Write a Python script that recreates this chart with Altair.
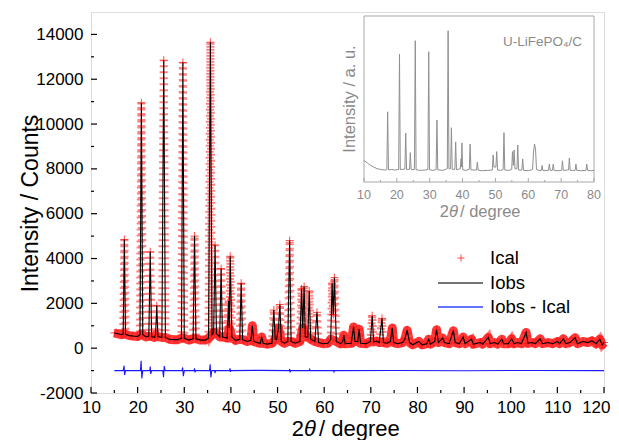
import altair as alt
import pandas as pd

# ---------------- data ----------------
# Observed pattern (2theta, counts)
IOBS = [
    (15.0, 680), (15.8, 640), (16.6, 600), (16.9, 640), (17.15, 4850), (17.4, 620),
    (18.2, 560), (19.0, 540), (20.0, 520), (20.5, 600), (20.8, 10950), (21.1, 600),
    (21.8, 500), (22.4, 540), (22.7, 4300), (23.0, 520), (23.6, 480), (23.85, 600),
    (24.1, 1900), (24.35, 520), (25.2, 480), (25.6, 12850), (25.95, 480), (26.8, 400),
    (27.8, 380), (28.6, 380), (29.4, 450), (29.7, 12750), (30.0, 440), (31.0, 360),
    (31.9, 420), (32.2, 5000), (32.5, 420), (33.5, 360), (34.5, 360), (35.2, 450),
    (35.6, 13650), (35.95, 600), (36.3, 700), (36.6, 4600), (36.9, 650), (37.6, 500),
    (37.9, 3550), (38.2, 500), (39.2, 450), (39.5, 2100), (39.65, 900), (39.85, 4100),
    (40.2, 500), (41.0, 350), (41.9, 400), (42.2, 2900), (42.5, 380), (43.5, 300),
    (44.3, 350), (44.6, 1000), (44.9, 300), (45.6, 250), (46.3, 220), (46.6, 500),
    (46.9, 220), (47.8, 180), (48.8, 220), (49.2, 1700), (49.5, 400), (49.8, 380),
    (50.2, 900), (50.5, 1950), (50.8, 300), (51.5, 220), (52.2, 300), (52.6, 4800),
    (52.9, 300), (53.8, 220), (54.8, 300), (55.15, 2650), (55.4, 900), (55.7, 2750),
    (55.95, 500), (56.5, 500), (56.8, 2550), (57.1, 400), (58.0, 300), (58.45, 1600),
    (58.8, 250), (59.8, 200), (60.8, 220), (61.4, 400), (61.7, 2900), (61.95, 1500),
    (62.2, 3150), (62.6, 300), (63.5, 200), (64.0, 300), (64.2, 580), (64.5, 200),
    (65.8, 220), (66.3, 950), (66.6, 300), (67.2, 300), (67.5, 850), (67.8, 220),
    (69.0, 200), (69.9, 300), (70.3, 1450), (70.6, 280), (71.2, 320), (71.8, 250),
    (72.4, 1330), (72.7, 250), (73.5, 220), (74.2, 300), (74.6, 900), (74.9, 250),
    (75.8, 200), (76.8, 250), (77.3, 400), (77.8, 800), (78.3, 250), (79.0, 150),
    (80.3, 300), (81.0, 150), (82.0, 200), (82.4, 400), (82.8, 180), (83.7, 300),
    (84.1, 820), (84.5, 250), (85.4, 450), (85.8, 250), (86.8, 200), (87.7, 780),
    (88.1, 250), (89.0, 200), (89.8, 500), (90.2, 200), (91.6, 400), (92.0, 180),
    (93.5, 250), (94.0, 180), (95.2, 480), (95.6, 200), (96.5, 250), (97.2, 180),
    (98.1, 400), (98.5, 200), (99.5, 200), (100.2, 420), (100.7, 200), (101.5, 250),
    (102.3, 200), (103.3, 700), (103.7, 220), (104.6, 250), (105.3, 200), (106.3, 420),
    (106.8, 200), (108.0, 250), (109.0, 200), (110.0, 300), (110.5, 200), (111.3, 420),
    (111.8, 200), (112.7, 250), (113.8, 470), (114.3, 200), (115.5, 300), (116.5, 250),
    (117.4, 330), (118.3, 200), (119.1, 400), (119.6, 150), (120.0, 250),
]
# Calculated pattern: overlaps the observed one at this scale
ICAL = list(IOBS)

# Difference curve (offset to -1000)
DIFF = [
    (15.0, -1000), (16.9, -1000), (17.1, -780), (17.2, -1200), (17.4, -1000),
    (20.6, -1000), (20.75, -560), (20.9, -1350), (21.1, -1000), (22.6, -1000),
    (22.7, -820), (22.8, -1150), (23.0, -1000), (25.4, -1000), (25.55, -1300),
    (25.7, -800), (25.9, -1000), (29.5, -1000), (29.65, -860), (29.8, -1250),
    (30.0, -1000), (32.1, -1000), (32.2, -900), (32.3, -1080), (32.4, -1000),
    (35.4, -1000), (35.55, -720), (35.7, -1300), (35.9, -1000), (36.5, -1000),
    (36.6, -1120), (36.7, -1000), (39.7, -1000), (39.8, -900), (39.9, -1060),
    (40.0, -1000), (46.0, -990), (52.5, -1000), (52.6, -930), (52.7, -1080),
    (52.8, -1000), (56.8, -1000), (56.9, -940), (57.0, -1000), (62.0, -1000),
    (62.1, -1060), (62.2, -1000), (75.0, -995), (90.0, -1005), (105.0, -995),
    (120.0, -1000),
]

# Inset pattern (2theta, relative intensity 0-100)
INSET = [
    (10, 13), (11, 11.5), (12, 10), (13, 9), (14, 8), (15, 7.6), (16.5, 7.2),
    (16.95, 7.5), (17.2, 42.3), (17.45, 7.4), (18.5, 7.5), (19.5, 7.2), (20.55, 7.6),
    (20.8, 77.1), (21.05, 7.5), (22.45, 7.8), (22.7, 29.5), (22.95, 7.6), (23.85, 7.6),
    (24.1, 17.7), (24.35, 7.4), (25.35, 7.6), (25.6, 85.1), (25.85, 7.4), (27.0, 7),
    (28.5, 7.2), (29.45, 7.6), (29.7, 78.5), (29.95, 7.4), (31.0, 7), (31.95, 7.5),
    (32.2, 37.3), (32.45, 7.3), (34.0, 7), (35.35, 8), (35.6, 91.1), (35.85, 8),
    (36.35, 8), (36.6, 32.7), (36.85, 7.6), (37.65, 7.6), (37.9, 24.1), (38.15, 7.4),
    (39.3, 8), (39.55, 14), (39.65, 9), (39.8, 23.5), (40.05, 7.4), (41.0, 7),
    (42.05, 7.6), (42.3, 22.9), (42.55, 7.3), (44.25, 7.2), (44.5, 12), (44.75, 7.1),
    (46, 6.8), (47.5, 7), (49.05, 7.2), (49.3, 16.3), (49.55, 9), (50.15, 9),
    (50.4, 18.3), (50.65, 7.2), (51.5, 7), (52.35, 7.5), (52.6, 29.7), (52.85, 7.2),
    (54, 7), (54.95, 7.5), (55.2, 18.3), (55.45, 10), (55.7, 19.3), (55.95, 8),
    (56.55, 8), (56.8, 22.3), (57.05, 7.2), (58.05, 7.2), (58.3, 13.9), (58.55, 7),
    (60, 6.8), (61.3, 7.5), (61.6, 18), (61.9, 22.9), (62.2, 20), (62.5, 7.5),
    (63.5, 6.8), (64.0, 7), (64.2, 10), (64.4, 7), (66.15, 7), (66.4, 10.8),
    (66.65, 7), (67.35, 7), (67.6, 10.8), (67.85, 7), (69, 6.8), (70.15, 7),
    (70.4, 12.8), (70.65, 7), (71.5, 7.2), (72.25, 7.2), (72.5, 14.5), (72.75, 7),
    (73.5, 7), (74.25, 7), (74.5, 10.8), (74.75, 7), (76, 6.8), (77.55, 7),
    (77.8, 10.8), (78.05, 7), (79, 6.8), (80, 7),
]

X_LABELS = [10, 20, 30, 40, 50, 60, 70, 80, 90, 100, 110, 120]
X_MINOR = [15, 25, 35, 45, 55, 65, 75, 85, 95, 105, 115]
Y_LABELS = [-2000, 0, 2000, 4000, 6000, 8000, 10000, 12000, 14000]
Y_MINOR = [-1000, 1000, 3000, 5000, 7000, 9000, 11000, 13000]
INSET_LABELS = [10, 20, 30, 40, 50, 60, 70, 80]
INSET_MINOR = [15, 25, 35, 45, 55, 65, 75]
LEGEND = ["Ical", "Iobs", "Iobs - Ical"]
INSET_NAME = "U-LiFePO\u2084/C"
X_TITLE_PARTS = ["2", "\u03b8", "/ degree"]
Y_TITLE = "Intensity / Counts"
INSET_Y_TITLE = "Intensity / a. u."

FONT = "Liberation Sans"
CROSS = "M-1,0L1,0M0,-1L0,1"

# ---------------- frames ----------------
iobs_df = pd.DataFrame(IOBS, columns=["tt", "counts"])
ical_df = pd.DataFrame(ICAL, columns=["tt", "counts"])
diff_df = pd.DataFrame(DIFF, columns=["tt", "counts"])
inset_df = pd.DataFrame(INSET, columns=["tt", "inten"])

W, H = 513, 381

main_x = alt.Scale(domain=[10, 120], nice=False, zero=False)
main_y = alt.Scale(domain=[-2000, 15000], nice=False, zero=False)

x_axis = alt.Axis(values=X_LABELS, ticks=False, domain=False, grid=False,
                  labelFontSize=17, labelPadding=6, labelFlush=False,
                  labelOverlap=False, labelColor="black", labelFont=FONT,
                  labelAlign={"condition": {"test": "datum.value == 120", "value": "right"},
                              "value": "center"},
                  labelOffset={"condition": {"test": "datum.value == 120", "value": 6},
                               "value": 0},
                  title=None)
y_axis = alt.Axis(values=Y_LABELS, ticks=False, domain=False, grid=False,
                  labelFontSize=17, labelPadding=8, labelOverlap=False,
                  labelColor="black", labelFont=FONT, labelExpr="'' + datum.value",
                  title=Y_TITLE, titleFontSize=23, titleFont=FONT,
                  titleFontWeight="normal", titleColor="black",
                  titleX=-61, titleY=191, titleAlign="center",
                  titleBaseline="middle")

X = alt.X("tt:Q", scale=main_x, axis=x_axis)
Y = alt.Y("counts:Q", scale=main_y, axis=y_axis)

band = alt.Chart(ical_df).transform_filter("datum.counts < 1200").mark_line(
    color="#ff1a1a", strokeWidth=9, opacity=0.85, strokeJoin="round"
).encode(x=X, y=Y)

dashes = alt.Chart(ical_df).mark_line(
    color="#ff1a1a", strokeWidth=8, opacity=0.55, strokeDash=[2, 4], strokeCap="butt"
).encode(x=X, y=Y)

crosses = alt.Chart(ical_df).mark_point(
    shape=CROSS, size=64, filled=False, color="#ff1a1a", strokeWidth=1, opacity=0.8
).encode(x=X, y=Y)

obs_line = alt.Chart(iobs_df).mark_line(color="black", strokeWidth=1.1).encode(x=X, y=Y)
diff_line = alt.Chart(diff_df).mark_line(color="#1a1aff", strokeWidth=1.1).encode(x=X, y=Y)

xmaj = alt.Chart(pd.DataFrame({"tt": X_LABELS})).mark_rule(color="black", strokeWidth=1.2).encode(
    x=X, y=alt.value(H), y2=alt.value(H - 6))
xmin = alt.Chart(pd.DataFrame({"tt": X_MINOR})).mark_rule(color="black", strokeWidth=1.2).encode(
    x=X, y=alt.value(H), y2=alt.value(H - 3))
ymaj = alt.Chart(pd.DataFrame({"counts": Y_LABELS})).mark_rule(color="black", strokeWidth=1.2).encode(
    y=Y, x=alt.value(0), x2=alt.value(6))
ymin = alt.Chart(pd.DataFrame({"counts": Y_MINOR})).mark_rule(color="black", strokeWidth=1.2).encode(
    y=Y, x=alt.value(0), x2=alt.value(3))

# x-axis title with italic theta
XT_Y = 424
XT_SIZE = 22
xt1 = alt.Chart(pd.DataFrame({"t": [X_TITLE_PARTS[0]]})).mark_text(
    fontSize=XT_SIZE, font=FONT, color="black", align="right", baseline="alphabetic"
).encode(x=alt.value(213), y=alt.value(XT_Y), text="t:N")
xt2 = alt.Chart(pd.DataFrame({"t": [X_TITLE_PARTS[1]]})).mark_text(
    fontSize=XT_SIZE, font=FONT, fontStyle="italic", color="black", align="left", baseline="alphabetic"
).encode(x=alt.value(213), y=alt.value(XT_Y), text="t:N")
xt3 = alt.Chart(pd.DataFrame({"t": [X_TITLE_PARTS[2]]})).mark_text(
    fontSize=XT_SIZE, font=FONT, color="black", align="left", baseline="alphabetic"
).encode(x=alt.value(228), y=alt.value(XT_Y), text="t:N")

leg_cross = alt.Chart(pd.DataFrame({"label": [LEGEND[0]]})).mark_point(
    shape=CROSS, size=49, filled=False, color="#ff1a1a", strokeWidth=1, opacity=0.8
).encode(x=alt.value(370), y=alt.value(246))
leg_obs = alt.Chart(pd.DataFrame({"label": [LEGEND[1]]})).mark_rule(
    color="#444444", strokeWidth=1.3).encode(x=alt.value(347), x2=alt.value(392), y=alt.value(271))
leg_diff = alt.Chart(pd.DataFrame({"label": [LEGEND[2]]})).mark_rule(
    color="#3344ff", strokeWidth=1.3).encode(x=alt.value(347), x2=alt.value(392), y=alt.value(295))
leg_text = alt.Chart(pd.DataFrame({"label": LEGEND, "row": [246, 271, 295]})).mark_text(
    align="left", baseline="middle", fontSize=18.5, font=FONT, color="black"
).encode(x=alt.value(399), y=alt.Y("row:Q", scale=None), text="label:N")

main = alt.layer(band, dashes, crosses, obs_line, diff_line,
                 xmaj, xmin, ymaj, ymin, xt1, xt2, xt3,
                 leg_cross, leg_obs, leg_diff, leg_text)

# ---------------- inset ----------------
inset_x = alt.Scale(domain=[10, 80], range=[273, 503], nice=False, zero=False)
inset_y = alt.Scale(domain=[0, 100], range=[170, 4], nice=False, zero=False)
IX = alt.X("tt:Q", scale=inset_x, axis=None)
IY = alt.Y("inten:Q", scale=inset_y, axis=None)
GRAY = "#8a8a8a"

frame = alt.Chart(pd.DataFrame({"tt": [10], "tt2": [80], "inten": [0], "inten2": [100]})).mark_rect(
    fill="white", stroke="#a8a8a8", strokeWidth=1).encode(x=IX, x2="tt2:Q", y=IY, y2="inten2:Q")
inset_line = alt.Chart(inset_df).mark_line(color="#909090", strokeWidth=1).encode(x=IX, y=IY)
ixmaj = alt.Chart(pd.DataFrame({"tt": INSET_LABELS})).mark_rule(color="#a8a8a8").encode(
    x=IX, y=alt.value(170), y2=alt.value(166))
ixmin = alt.Chart(pd.DataFrame({"tt": INSET_MINOR})).mark_rule(color="#a8a8a8").encode(
    x=IX, y=alt.value(170), y2=alt.value(168))
ilabels = alt.Chart(pd.DataFrame({"tt": INSET_LABELS})).mark_text(
    fontSize=12.5, font=FONT, color=GRAY, baseline="middle"
).encode(x=IX, y=alt.value(183), text="tt:Q")
ixt1 = alt.Chart(pd.DataFrame({"t": [X_TITLE_PARTS[0]]})).mark_text(
    fontSize=16.5, font=FONT, color=GRAY, baseline="middle", align="right"
).encode(x=alt.value(358), y=alt.value(200), text="t:N")
ixt2 = alt.Chart(pd.DataFrame({"t": [X_TITLE_PARTS[1]]})).mark_text(
    fontSize=16.5, font=FONT, fontStyle="italic", color=GRAY, baseline="middle", align="left"
).encode(x=alt.value(358), y=alt.value(200), text="t:N")
ixt3 = alt.Chart(pd.DataFrame({"t": [X_TITLE_PARTS[2]]})).mark_text(
    fontSize=16.5, font=FONT, color=GRAY, baseline="middle", align="left"
).encode(x=alt.value(369), y=alt.value(200), text="t:N")
iytitle = alt.Chart(pd.DataFrame({"t": [INSET_Y_TITLE]})).mark_text(
    fontSize=16.5, font=FONT, color=GRAY, baseline="middle", angle=270
).encode(x=alt.value(259), y=alt.value(87), text="t:N")
iname = alt.Chart(pd.DataFrame({"t": [INSET_NAME]})).mark_text(
    fontSize=13.5, font=FONT, color=GRAY, baseline="middle", align="left"
).encode(x=alt.value(412), y=alt.value(30), text="t:N")

inset = alt.layer(frame, inset_line, ixmaj, ixmin, ilabels, ixt1, ixt2, ixt3, iytitle, iname)

chart = alt.layer(main, inset).resolve_scale(
    x="independent", y="independent"
).properties(
    width=W, height=H,
    padding={"left": 83, "top": 4, "right": 7, "bottom": 47},
    autosize=alt.AutoSizeParams(type="none"),
).configure_view(
    stroke="black", strokeWidth=1.5
).configure(font=FONT)

chart.save("out.html", embed_options={"renderer": "svg", "actions": False})
